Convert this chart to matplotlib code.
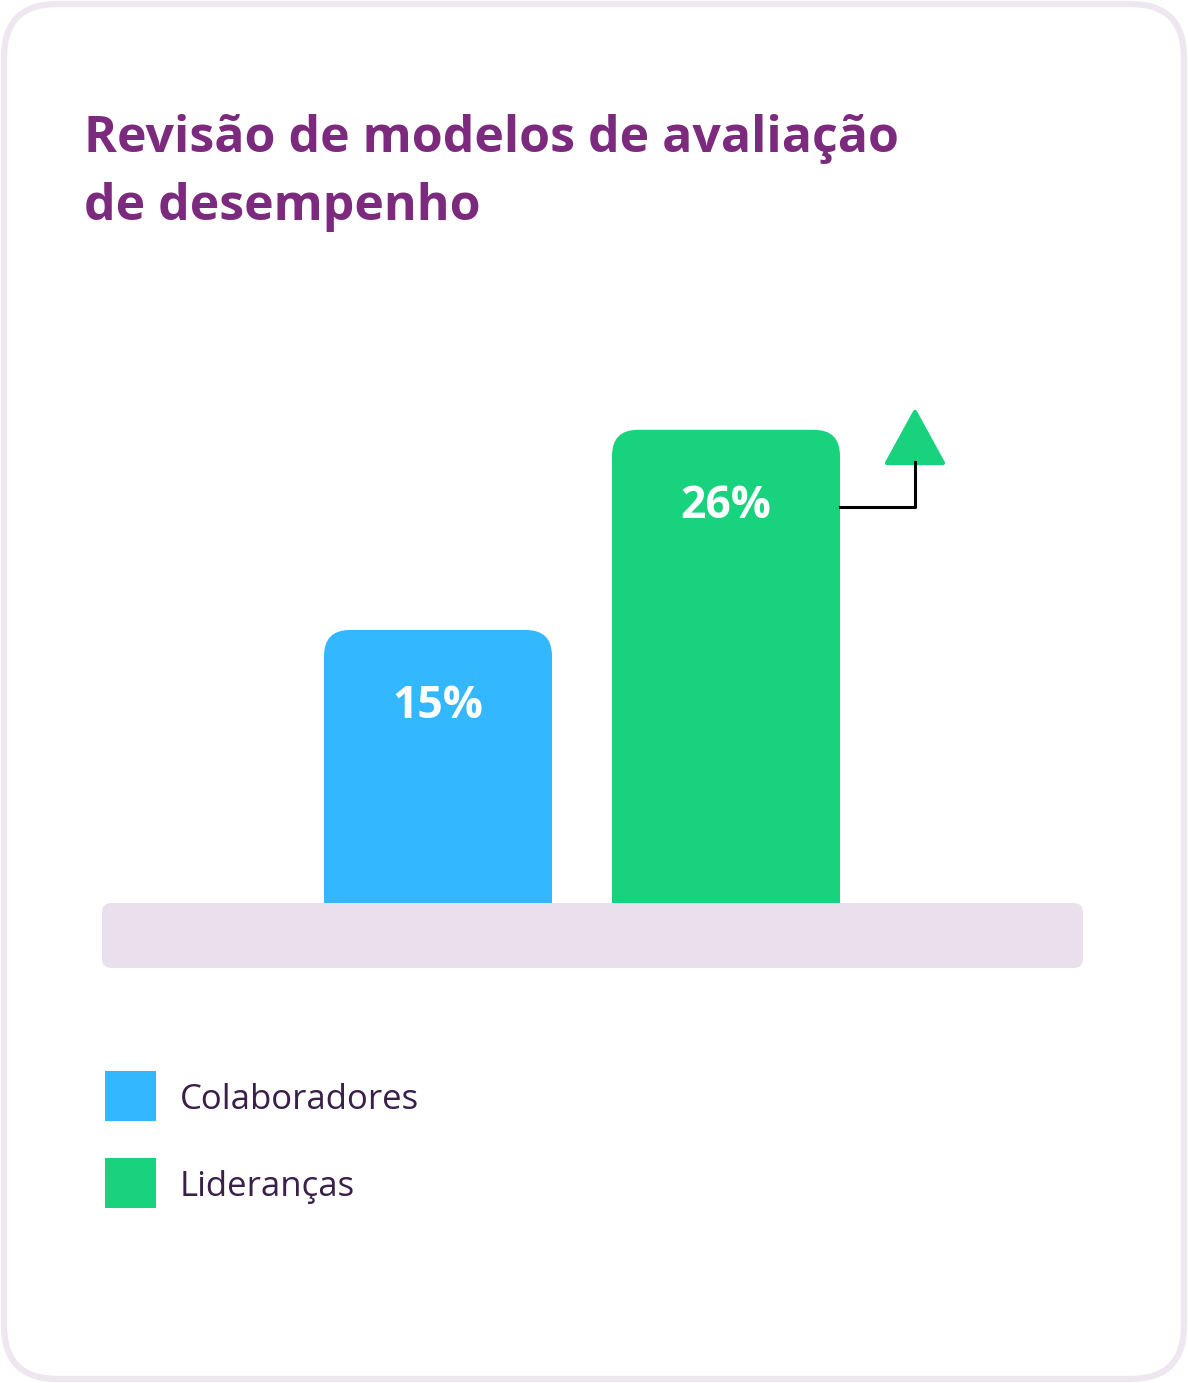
import matplotlib
matplotlib.use("Agg")
import matplotlib.pyplot as plt
from matplotlib.patches import FancyBboxPatch, PathPatch, Polygon, Rectangle
from matplotlib.path import Path
from matplotlib.transforms import IdentityTransform

# ---- data ----
title_lines = ["Revisão de modelos de avaliação", "de desempenho"]
categories = ["Colaboradores", "Lideranças"]
values = [15, 26]
value_labels = ["15%", "26%"]
colors = ["#33B8FF", "#18D27E"]

W, H = 1188, 1383
DPI = 100
FONT = "Open Sans"
plt.rcParams['font.family'] = [FONT, 'DejaVu Sans']

fig = plt.figure(figsize=(W / DPI, H / DPI), dpi=DPI)
fig.patch.set_facecolor("white")

def fx(x):
    return x / W

def fy(y):
    return 1 - y / H

# card border
card = FancyBboxPatch((fx(4), fy(1379)), fx(1180), (1375) / H,
                      boxstyle="round,pad=0,rounding_size=0.045",
                      transform=fig.transFigure, facecolor="white",
                      edgecolor="#EEE7EF", linewidth=4.5, mutation_aspect=W / H,
                      zorder=-3)
fig.patches.append(card)

# title
for line, yb in zip(title_lines, [152, 220]):
    fig.text(fx(84), fy(yb), line, fontsize=36, fontweight="bold",
             color="#7C2A7E", ha="left", va="baseline")

# base rectangle
base = FancyBboxPatch((fx(102), fy(968)), fx(981), 65 / H,
                      boxstyle="round,pad=0,rounding_size=0.008",
                      transform=fig.transFigure, facecolor="#EADFEC",
                      edgecolor="none", mutation_aspect=W / H, zorder=-2)
fig.patches.append(base)

# chart axes: x 102..1083 px, y baseline at 903 px, 18.2 px per unit
ymax = 30
unit = 18.2
ax_top = 903 - ymax * unit
ax = fig.add_axes([fx(102), fy(903), fx(981), (903 - ax_top) / H])
ax.set_xlim((102 - 438) / 288, (1083 - 438) / 288)
ax.set_ylim(0, ymax)
ax.axis("off")
ax.patch.set_alpha(0)

xs = list(range(len(values)))
bars = ax.bar(xs, values, width=228 / 288, color=colors)

fig.canvas.draw()
r = 26
for b, c in zip(bars, colors):
    b.set_visible(False)
    (x0, y0), (x1, y1) = ax.transData.transform([(b.get_x(), 0),
                                                   (b.get_x() + b.get_width(), b.get_height())])
    verts = [(x0, y0), (x0, y1 - r), (x0, y1), (x0 + r, y1),
             (x1 - r, y1), (x1, y1), (x1, y1 - r), (x1, y0), (x0, y0)]
    codes = [Path.MOVETO, Path.LINETO, Path.CURVE3, Path.CURVE3,
             Path.LINETO, Path.CURVE3, Path.CURVE3, Path.LINETO, Path.CLOSEPOLY]
    ax.add_patch(PathPatch(Path(verts, codes), facecolor=c, edgecolor="none",
                           transform=IdentityTransform(), clip_on=False, zorder=2))

for xi, v, lab in zip(xs, values, value_labels):
    ax.annotate(lab, (xi, v), xytext=(0, -77 * 0.72), textcoords="offset points",
                ha="center", va="center", color="white", fontsize=32,
                fontweight="bold", zorder=5)

# arrow indicator next to the tallest bar
line_y = fy(507)
fig.lines.append(plt.Line2D([fx(840), fx(915), fx(915)], [line_y, line_y, fy(462)],
                            transform=fig.transFigure, color="black", linewidth=2.2))
tri = Polygon([(fx(887), fy(463)), (fx(943), fy(463)), (fx(915), fy(412))],
              closed=True, transform=fig.transFigure, facecolor=colors[1],
              edgecolor=colors[1], linewidth=3, joinstyle="round")
fig.patches.append(tri)

# legend
leg_y = [1096, 1183]
for cat, c, yc in zip(categories, colors, leg_y):
    fig.patches.append(Rectangle((fx(105), fy(yc + 25)), fx(51), 50 / H,
                                 transform=fig.transFigure, facecolor=c, edgecolor="none"))
    fig.text(fx(180), fy(yc), cat, fontsize=25, color="#3B1F4B",
             ha="left", va="center_baseline")

fig.savefig("out.png", dpi=DPI, facecolor="white")
